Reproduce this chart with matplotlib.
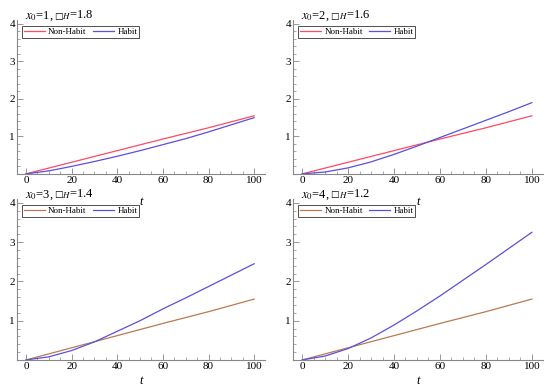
import numpy as np
import matplotlib.pyplot as plt
from matplotlib.ticker import MultipleLocator
from matplotlib.offsetbox import TextArea, HPacker, AnnotationBbox

plt.rcParams['font.family'] = ['Liberation Serif', 'DejaVu Sans']
plt.rcParams['mathtext.fontset'] = 'stix'

# data
t = [0, 10, 20, 30, 40, 50, 60, 70, 80, 90, 100]
non_habit = [0, 0.155, 0.31, 0.465, 0.62, 0.775, 0.93, 1.08, 1.23, 1.39, 1.55]
habit_1 = [0, 0.08, 0.20, 0.33, 0.47, 0.62, 0.78, 0.94, 1.12, 1.31, 1.50]
habit_2 = [0, 0.05, 0.16, 0.32, 0.52, 0.74, 0.97, 1.20, 1.43, 1.66, 1.90]
habit_3 = [0, 0.08, 0.24, 0.46, 0.73, 1.00, 1.30, 1.58, 1.87, 2.16, 2.45]
habit_4 = [0, 0.10, 0.29, 0.56, 0.89, 1.25, 1.63, 2.03, 2.43, 2.84, 3.25]
x0_vals = [1, 2, 3, 4]
gamma_vals = ['1.8', '1.6', '1.4', '1.2']
habits = [habit_1, habit_2, habit_3, habit_4]

nh_colors = ['#ff4a64', '#ff4a64', '#b87a52', '#b87a52']
blue = '#5a50dc'

fig = plt.figure(figsize=(5.5, 3.89), dpi=100)
boxes = [[0.031, 0.553, 0.451, 0.395], [0.533, 0.553, 0.454, 0.395],
         [0.031, 0.0746, 0.451, 0.414], [0.533, 0.0746, 0.454, 0.414]]

for i in range(4):
    ax = fig.add_axes(boxes[i])
    ax.patch.set_visible(False)
    l1, = ax.plot(t, non_habit, color=nh_colors[i], lw=0.9)
    l2, = ax.plot(t, habits[i], color=blue, lw=0.9)
    ax.set_xlim(-3.9, 104.8)
    ax.set_ylim(0, 4.1)
    ax.spines['top'].set_visible(False)
    ax.spines['right'].set_visible(False)
    for s in ['left', 'bottom']:
        ax.spines[s].set_color('#888888')
        ax.spines[s].set_linewidth(0.8)
    ax.set_xticks([0, 20, 40, 60, 80, 100])
    ax.set_yticks([1, 2, 3, 4])
    ax.xaxis.set_minor_locator(MultipleLocator(5))
    ax.yaxis.set_minor_locator(MultipleLocator(0.2))
    ax.tick_params(which='both', direction='in', color='#888888', labelsize=8, pad=1.5)
    ax.tick_params(which='major', length=4, width=0.6)
    ax.tick_params(which='minor', length=2, width=0.5)
    if i < 2:
        ax.set_xlabel('t', style='italic', fontsize=9, labelpad=8)
    else:
        ax.set_xlabel('t', style='italic', fontsize=9, labelpad=3)

    # title: x_0=.., □_H=..  (box glyph kept small like the reference)
    parts = [TextArea('$x_0$=%d, ' % x0_vals[i], textprops=dict(fontsize=9)),
             TextArea('□', textprops=dict(fontsize=6.5, family='DejaVu Sans')),
             TextArea('$_H$=%s' % gamma_vals[i], textprops=dict(fontsize=9))]
    pack = HPacker(children=parts, align='baseline', pad=0, sep=0)
    ab = AnnotationBbox(pack, (0, 4), xybox=(-1, 6), xycoords='data',
                        boxcoords='offset points', box_alignment=(0, 0.5),
                        frameon=False, annotation_clip=False)
    ax.add_artist(ab)

    leg = ax.legend([l1, l2], ['Non-Habit', 'Habit'], loc='upper left', ncol=2,
                    fontsize=6.5, frameon=True, fancybox=False, handlelength=2.3,
                    borderpad=0.2, columnspacing=0.7, handletextpad=0.4,
                    bbox_to_anchor=(0.02, 0.965), borderaxespad=0)
    leg.get_frame().set_edgecolor('black')
    leg.get_frame().set_linewidth(0.6)

plt.savefig('out.png', dpi=100)
